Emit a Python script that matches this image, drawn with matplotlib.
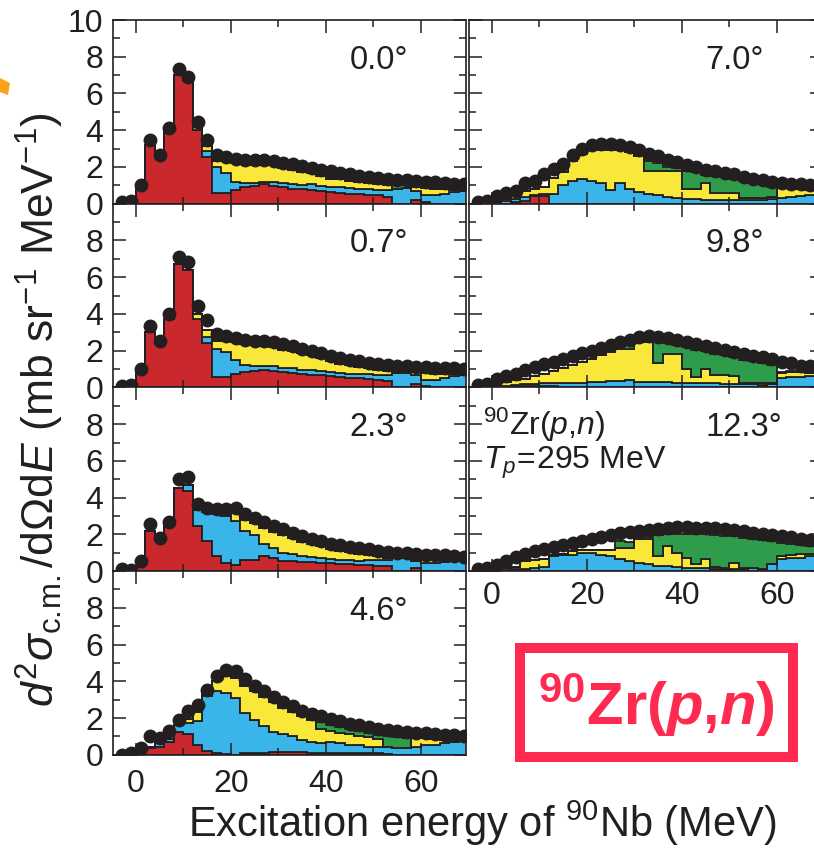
import matplotlib
matplotlib.use("Agg")
import matplotlib.pyplot as plt
import matplotlib.patches as patches
import numpy as np

plt.rcParams['font.family'] = ['Liberation Sans', 'DejaVu Sans']
plt.rcParams['mathtext.fontset'] = 'custom'
plt.rcParams['mathtext.rm'] = 'Liberation Sans'
plt.rcParams['mathtext.it'] = 'Liberation Sans:italic'
plt.rcParams['mathtext.bf'] = 'Liberation Sans:bold'
plt.rcParams['mathtext.bfit'] = 'Liberation Sans:italic:bold'

# bin centres (MeV), 2 MeV wide bins
centers = [-3, -1, 1, 3, 5, 7, 9, 11, 13, 15, 17, 19, 21, 23, 25, 27, 29, 31, 33,
           35, 37, 39, 41, 43, 45, 47, 49, 51, 53, 55, 57, 59, 61, 63, 65, 67, 69]

angles = ['0.0°', '0.7°', '2.3°', '4.6°', '7.0°', '9.8°', '12.3°']

# measured spectra (black dots)
dots_00 = [0.1, 0.15, 1.0, 3.45, 2.65, 4.1, 7.35, 6.9, 4.45, 3.45, 2.64, 2.55, 2.45, 2.4, 2.36, 2.36, 2.31, 2.24, 2.15,
           2.05, 1.95, 1.85, 1.76, 1.67, 1.6, 1.51, 1.45, 1.4, 1.35, 1.31, 1.27, 1.24, 1.2, 1.16, 1.13, 1.09, 1.05]
dots_07 = [0.1, 0.15, 1.0, 3.35, 2.55, 4.0, 7.1, 6.8, 4.45, 3.65, 2.9, 2.8, 2.7, 2.6, 2.55, 2.5, 2.45, 2.35, 2.25,
           2.1, 2.0, 1.87, 1.73, 1.6, 1.5, 1.42, 1.33, 1.27, 1.22, 1.18, 1.15, 1.13, 1.1, 1.07, 1.05, 1.04, 1.0]
dots_23 = [0.1, 0.05, 0.55, 2.55, 1.8, 2.7, 5.0, 5.1, 3.65, 3.45, 3.4, 3.4, 3.45, 3.1, 2.9, 2.67, 2.45, 2.27, 2.1,
           1.9, 1.76, 1.64, 1.5, 1.42, 1.33, 1.24, 1.18, 1.1, 1.05, 1.0, 0.96, 0.93, 0.9, 0.87, 0.85, 0.82, 0.78]
dots_46 = [0.0, 0.1, 0.35, 1.0, 0.9, 1.27, 1.9, 2.36, 2.7, 3.55, 4.27, 4.64, 4.55, 4.1, 3.73, 3.45, 3.15, 2.85, 2.64,
           2.4, 2.22, 2.1, 1.95, 1.82, 1.7, 1.6, 1.5, 1.42, 1.36, 1.3, 1.25, 1.2, 1.16, 1.13, 1.09, 1.07, 1.04]
dots_70 = [0.1, 0.15, 0.4, 0.6, 0.7, 1.1, 1.25, 1.64, 1.91, 2.18, 2.64, 3.0, 3.18, 3.24, 3.27, 3.18, 3.09, 2.91, 2.69,
           2.58, 2.36, 2.27, 2.09, 2.0, 1.85, 1.78, 1.69, 1.6, 1.45, 1.36, 1.27, 1.18, 1.15, 1.09, 1.07, 1.04, 1.0]
dots_98 = [0.15, 0.2, 0.45, 0.6, 0.75, 0.95, 1.1, 1.25, 1.4, 1.55, 1.7, 1.85, 2.0, 2.15, 2.3, 2.45, 2.6, 2.72, 2.78,
           2.75, 2.7, 2.6, 2.49, 2.36, 2.27, 2.13, 2.05, 1.95, 1.82, 1.73, 1.64, 1.55, 1.4, 1.33, 1.18, 1.18, 1.1]
dots_123 = [0.12, 0.15, 0.32, 0.55, 0.75, 0.92, 1.08, 1.22, 1.32, 1.42, 1.55, 1.65, 1.77, 1.87, 1.97, 2.05, 2.12, 2.2,
            2.26, 2.31, 2.36, 2.38, 2.38, 2.37, 2.35, 2.33, 2.28, 2.24, 2.16, 2.1, 2.03, 1.98, 1.9, 1.85, 1.76, 1.72, 1.68]

# multipole components L=0 (red), L=1 (blue), L=2 (yellow), L=3 (green)
red_00 = [0, 0, 0.95, 3.2, 2.55, 3.9, 7.0, 6.7, 4.0, 2.55, 0.6, 0.6, 0.75, 0.9, 0.95, 1.05, 0.95, 0.9, 0.8,
          0.8, 0.75, 0.7, 0.65, 0.6, 0.55, 0.55, 0.5, 0.45, 0.35, 0, 0, 0.2, 0.1, 0, 0, 0, 0]
blue_00 = [0, 0, 0, 0, 0, 0, 0, 0, 0, 0.3, 1.4, 1.05, 0.45, 0.2, 0.15, 0.15, 0.25, 0.2, 0.25,
           0.2, 0.3, 0.25, 0.25, 0.3, 0.3, 0.25, 0.3, 0.3, 0.4, 0.8, 0.85, 0.5, 0.35, 0.45, 0.55, 0.65, 0.7]
yellow_00 = [0, 0, 0, 0, 0, 0, 0, 0, 0.2, 0.3, 0.35, 0.65, 1.0, 1.05, 1.0, 0.9, 0.9, 0.85, 0.8,
             0.75, 0.6, 0.55, 0.45, 0.45, 0.4, 0.4, 0.3, 0.3, 0.25, 0, 0, 0.2, 0.4, 0.35, 0.25, 0.1, 0.05]
green_00 = [0, 0, 0, 0, 0, 0, 0, 0, 0, 0, 0, 0, 0, 0, 0, 0, 0, 0, 0,
            0, 0, 0.1, 0.05, 0, 0, 0, 0, 0, 0.1, 0.2, 0.15, 0, 0, 0, 0, 0.05, 0]

red_07 = [0, 0, 0.9, 3.0, 2.45, 3.7, 6.7, 6.4, 3.7, 2.4, 0.55, 0.55, 0.75, 0.85, 0.9, 0.95, 0.9, 0.85, 0.8,
          0.75, 0.7, 0.65, 0.6, 0.55, 0.5, 0.5, 0.45, 0.4, 0.35, 0, 0, 0.2, 0.1, 0, 0, 0, 0]
blue_07 = [0, 0, 0, 0, 0, 0, 0, 0, 0, 0.35, 1.55, 1.35, 0.75, 0.35, 0.25, 0.2, 0.25, 0.2, 0.25,
           0.2, 0.25, 0.25, 0.25, 0.25, 0.25, 0.25, 0.3, 0.3, 0.35, 0.8, 0.8, 0.45, 0.3, 0.4, 0.5, 0.6, 0.65]
yellow_07 = [0, 0, 0, 0, 0, 0, 0, 0, 0.3, 0.35, 0.45, 0.65, 0.95, 1.15, 1.15, 1.1, 1.05, 1.0, 0.95,
             0.9, 0.8, 0.7, 0.6, 0.5, 0.45, 0.35, 0.3, 0.25, 0.2, 0, 0, 0.2, 0.4, 0.35, 0.25, 0.15, 0.05]
green_07 = [0, 0, 0, 0, 0, 0, 0, 0, 0, 0, 0, 0, 0, 0, 0, 0, 0, 0, 0,
            0, 0, 0.1, 0.05, 0, 0, 0, 0, 0.05, 0.1, 0.15, 0.1, 0, 0, 0, 0, 0, 0]

red_23 = [0, 0, 0.3, 2.2, 1.7, 2.45, 4.55, 4.35, 2.45, 1.65, 0.8, 0.45, 0.35, 0.6, 0.6, 0.8, 0.7, 0.55, 0.55,
          0.5, 0.5, 0.45, 0.45, 0.4, 0.4, 0.35, 0.35, 0.3, 0.3, 0, 0, 0.15, 0, 0, 0, 0, 0]
blue_23 = [0, 0, 0, 0, 0, 0, 0, 0.35, 0.85, 1.55, 2.3, 2.55, 2.4, 1.6, 1.35, 0.7, 0.55, 0.45, 0.4,
           0.3, 0.25, 0.25, 0.2, 0.2, 0.2, 0.2, 0.25, 0.3, 0.3, 0.75, 0.7, 0.4, 0.45, 0.45, 0.5, 0.55, 0.6]
yellow_23 = [0, 0, 0, 0, 0, 0, 0, 0, 0, 0, 0, 0, 0.4, 0.6, 0.65, 0.85, 0.9, 0.95, 0.85,
             0.8, 0.7, 0.65, 0.55, 0.5, 0.45, 0.4, 0.3, 0.2, 0.1, 0, 0, 0.05, 0.25, 0.25, 0.05, 0, 0]
green_23 = [0, 0, 0, 0, 0, 0, 0, 0, 0, 0, 0, 0, 0, 0, 0, 0, 0, 0, 0,
            0, 0, 0, 0, 0, 0, 0, 0, 0, 0.05, 0.05, 0.05, 0, 0, 0, 0, 0, 0]

red_46 = [0, 0, 0.05, 0.35, 0.45, 0.7, 1.25, 1.15, 0.55, 0.2, 0.1, 0.05, 0.0, 0.1, 0.12, 0.12, 0.15, 0.15, 0.15,
          0.15, 0.12, 0.12, 0.12, 0.1, 0.1, 0.1, 0.1, 0.08, 0.05, 0, 0, 0, 0, 0, 0, 0, 0]
blue_46 = [0, 0, 0.05, 0.1, 0.25, 0.15, 0.35, 0.6, 1.3, 3.0, 3.35, 3.3, 3.1, 2.15, 1.8, 1.45, 1.1, 1.0, 0.85,
           0.65, 0.55, 0.5, 0.6, 0.55, 0.45, 0.45, 0.35, 0.35, 0.35, 0.35, 0.35, 0.45, 0.55, 0.55, 0.65, 0.7, 0.75]
yellow_46 = [0, 0, 0, 0, 0, 0, 0, 0.2, 0.5, 0.15, 0.55, 0.95, 1.1, 1.5, 1.55, 1.6, 1.6, 1.4, 1.35,
             1.3, 1.25, 0.8, 0.6, 0.55, 0.6, 0.5, 0.5, 0.45, 0.05, 0, 0, 0.45, 0.35, 0.3, 0.15, 0.05, 0]
green_46 = [0, 0, 0, 0, 0, 0, 0, 0, 0, 0, 0, 0, 0, 0, 0, 0, 0, 0, 0,
            0, 0.05, 0.35, 0.3, 0.3, 0.25, 0.25, 0.25, 0.2, 0.6, 0.6, 0.55, 0.05, 0, 0, 0, 0, 0]

red_70 = [0, 0, 0, 0, 0.1, 0.15, 0.4, 0.4, 0, 0, 0, 0, 0, 0, 0, 0, 0, 0, 0,
          0, 0, 0, 0, 0, 0, 0, 0, 0, 0, 0, 0, 0, 0, 0, 0, 0, 0]
blue_70 = [0, 0, 0.1, 0.15, 0.15, 0.2, 0.05, 0.15, 0.55, 1.0, 1.25, 1.35, 1.25, 1.1, 0.75, 1.1, 0.8, 0.65, 0.55,
           0.45, 0.35, 0.3, 0.25, 0.25, 0.2, 0.2, 0.2, 0.2, 0.2, 0.2, 0.2, 0.25, 0.3, 0.35, 0.4, 0.45, 0.5]
yellow_70 = [0, 0, 0.05, 0.1, 0.25, 0.35, 0.35, 0.35, 0.85, 0.75, 1.05, 1.35, 1.65, 1.85, 2.2, 1.8, 2.0, 1.95, 1.25,
             1.35, 1.45, 1.5, 0.55, 0.55, 0.95, 0.4, 0.4, 0.4, 0.1, 0.1, 0.1, 0.1, 0.55, 0.5, 0.4, 0.3, 0.25]
green_70 = [0, 0, 0, 0, 0, 0, 0, 0, 0, 0, 0, 0, 0, 0, 0, 0, 0, 0, 0.5,
            0.4, 0.2, 0.15, 1.0, 0.95, 0.4, 0.9, 0.85, 0.75, 0.95, 0.85, 0.75, 0.55, 0.05, 0.05, 0.05, 0.05, 0.05]

red_98 = [0, 0, 0, 0, 0, 0.05, 0.05, 0.05, 0.05, 0, 0, 0, 0, 0, 0, 0, 0, 0, 0,
          0, 0, 0, 0, 0, 0, 0, 0, 0, 0, 0, 0, 0, 0, 0, 0, 0, 0]
blue_98 = [0, 0, 0.1, 0.1, 0.15, 0.15, 0.15, 0.2, 0.2, 0.25, 0.25, 0.25, 0.3, 0.3, 0.35, 0.35, 0.4, 0.3, 0.3,
           0.3, 0.3, 0.25, 0.25, 0.25, 0.25, 0.25, 0.2, 0.2, 0.2, 0.2, 0.15, 0.2, 0.5, 0.55, 0.55, 0.6, 0.6]
yellow_98 = [0, 0, 0.1, 0.2, 0.25, 0.25, 0.4, 0.5, 0.65, 0.8, 0.95, 1.15, 1.25, 1.45, 1.55, 1.75, 1.7, 2.15, 2.15,
             1.05, 1.5, 1.55, 0.75, 0.3, 0.75, 0.4, 0.45, 0.4, 0.05, 0.05, 0.1, 0.05, 0.3, 0.3, 0.3, 0.2, 0.15]
green_98 = [0, 0, 0, 0, 0, 0, 0, 0, 0, 0, 0, 0, 0, 0, 0, 0.2, 0.33, 0.07, 0.07,
            1.12, 0.63, 0.5, 1.19, 1.51, 0.97, 1.19, 1.11, 1.05, 1.25, 1.16, 1.07, 0.98, 0.05, 0.05, 0.05, 0.05, 0.05]

red_123 = [0, 0, 0, 0, 0.03, 0.03, 0.03, 0, 0, 0, 0, 0, 0, 0, 0, 0, 0, 0, 0,
           0, 0, 0, 0, 0, 0, 0, 0, 0, 0, 0, 0, 0, 0, 0, 0, 0, 0]
blue_123 = [0, 0, 0.05, 0.05, 0.07, 0.07, 0.12, 0.2, 0.8, 0.85, 0.9, 1.0, 1.0, 0.9, 0.82, 0.64, 0.55, 0.45, 0.36,
            0.3, 0.27, 0.2, 0.18, 0.15, 0.15, 0.13, 0.13, 0.13, 0.13, 0.18, 0.1, 0.36, 0.64, 0.73, 0.73, 0.82, 0.82]
yellow_123 = [0, 0, 0.05, 0.1, 0.1, 0.45, 0.45, 0.45, 0.05, 0.1, 0.2, 0.15, 0.15, 0.25, 0.35, 0.6, 0.7, 1.28, 1.37,
              0.52, 1.09, 0.8, 0.55, 0.21, 0.49, 0.07, 0.02, 0.32, 0.02, 0, 0, 0, 0.16, 0.17, 0.22, 0.13, 0.13]
green_123 = [0, 0, 0, 0.05, 0, 0, 0, 0, 0, 0, 0, 0, 0, 0, 0, 0.4, 0.35, 0.15, 0.15,
             1.14, 0.65, 1.03, 1.3, 1.66, 1.36, 1.78, 1.78, 1.44, 1.66, 1.57, 1.58, 1.27, 0.75, 0.6, 0.46, 0.42, 0.38]

dots = [dots_00, dots_07, dots_23, dots_46, dots_70, dots_98, dots_123]
reds = [red_00, red_07, red_23, red_46, red_70, red_98, red_123]
blues = [blue_00, blue_07, blue_23, blue_46, blue_70, blue_98, blue_123]
yellows = [yellow_00, yellow_07, yellow_23, yellow_46, yellow_70, yellow_98, yellow_123]
greens = [green_00, green_07, green_23, green_46, green_70, green_98, green_123]

RED = '#C9282D'
BLUE = '#3AB5EA'
YELLOW = '#F9E73A'
GREEN = '#2E9C4B'
INK = '#231F20'

W, H = 814, 849
fig = plt.figure(figsize=(W / 100, H / 100), dpi=100)

edges = np.append(np.array(centers) - 1.0, centers[-1] + 1.0)

# panel geometry in pixels (left, bottom-from-top)
col_x = [113, 469]
row_bottom = [203.7, 387.4, 571.1, 754.8]
pw, ph = 353, 183.7
# panel index -> (column, row)
slots = [(0, 0), (0, 1), (0, 2), (0, 3), (1, 0), (1, 1), (1, 2)]

for k, (c, r) in enumerate(slots):
    ax = fig.add_axes([col_x[c] / W, 1 - row_bottom[r] / H, pw / W, ph / H])
    base = np.zeros(len(centers))
    for vals, col in zip([reds[k], blues[k], yellows[k], greens[k]], [RED, BLUE, YELLOW, GREEN]):
        top = base + np.array(vals)
        ax.stairs(top, edges, baseline=base, fill=True, facecolor=col,
                  edgecolor=INK, linewidth=1.3)
        base = top
    ax.plot(centers, dots[k], 'o', color=INK, ms=9, mec=INK, zorder=5)

    ax.set_xlim(-4.8, 69.5)
    ax.set_ylim(0, 10)
    ax.set_xticks([0, 20, 40, 60])
    ax.set_xticks([10, 30, 50], minor=True)
    ax.set_yticks([0, 2, 4, 6, 8, 10])
    ax.set_yticks([1, 3, 5, 7, 9], minor=True)
    ax.tick_params(which='both', direction='in', top=True, right=True, width=1.1,
                   labelsize=23, colors=INK)
    ax.tick_params(which='major', length=9)
    ax.tick_params(which='minor', length=5)
    ax.tick_params(axis='y', pad=7)
    for s in ax.spines.values():
        s.set_linewidth(1.2)
        s.set_color(INK)

    if c == 0:
        if r == 0:
            ax.set_yticklabels(['0', '2', '4', '6', '8', '10'])
        else:
            ax.set_yticklabels(['0', '2', '4', '6', '8', ''])
    else:
        ax.set_yticklabels([])
    if (c == 0 and r == 3):
        ax.tick_params(axis='x', pad=10)
    elif (c == 1 and r == 2):
        ax.tick_params(axis='x', pad=7)
    else:
        ax.set_xticklabels([])

    ax.text(45, 7.82, angles[k], fontsize=23.5, ha='left', va='center', color=INK)
    if k == 6:
        ax.text(-1.8, 7.95, r'$^{90}$Zr($p$,$n$)', fontsize=23, ha='left', va='center', color=INK)
        ax.text(-1.8, 5.9, r'$T_p\!=\!$295 MeV', fontsize=23, ha='left', va='center', color=INK)

fig.text(482 / W, 1 - 823 / H, r'Excitation energy of $^{90}$Nb (MeV)', fontsize=30,
         ha='center', va='center', color=INK)
fig.text(40 / W, 1 - 410 / H,
         r'$d^2\sigma_{\rm c.\!m.}/{\rm d}\Omega{\rm d}E$ (mb sr$^{-1}$ MeV$^{-1}$)',
         fontsize=32, rotation=90, ha='center', va='center', color=INK)

# highlight box
PINK = '#FF2A50'
box = patches.Rectangle((520 / W, 1 - 757 / H), 273 / W, 109 / H, transform=fig.transFigure,
                        fill=False, edgecolor=PINK, linewidth=7.2)
fig.patches.append(box)
fig.text(656 / W, 1 - 705 / H, r'$^{\mathbf{90}}\mathbf{Zr(}\mathbfit{p}\mathbf{,}\mathbfit{n}\mathbf{)}$',
         fontsize=43, ha='center', va='center', color=PINK)

# orange fragment at top left edge
orange = patches.Polygon([(0, 1 - 78 / H), (10 / W, 1 - 83 / H), (8 / W, 1 - 95 / H), (0, 1 - 92 / H)],
                         closed=True, transform=fig.transFigure, facecolor='#FBA21B', edgecolor='none')
fig.patches.append(orange)

fig.savefig('out.png', dpi=100)
